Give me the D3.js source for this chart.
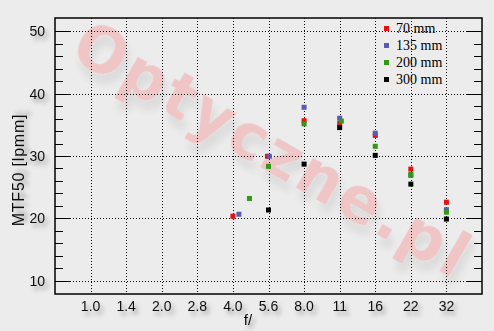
<!DOCTYPE html>
<meta charset="utf-8">
<head>
    <title> MTF50 vs aperture </title>
    <script src="https://d3js.org/d3.v7.min.js"></script>
    <style>
        body { margin: 0; background: #ececec; }
        svg { display: block; }
    </style>
</head>
<body>
<div id="my_dataviz"></div>
<script>

// aperture stops on the x axis
var fLabels = ["1.0", "1.4", "2.0", "2.8", "4.0", "5.6", "8.0", "11", "16", "22", "32"];
var fStops  = [1, 1.41, 2, 2.83, 4, 5.66, 8, 11.3, 16, 22.6, 32];

// one pair of arrays per focal length: f-number and MTF50 [lpmm]
var f70    = [4.0, 5.6, 8, 11.3, 16, 22.6, 32];
var mtf70  = [20.35, 29.95, 35.65, 35.2, 33.3, 27.9, 22.6];
var f135   = [4.24, 5.7, 8, 11.3, 16, 22.6, 32];
var mtf135 = [20.67, 29.95, 37.8, 36.05, 33.65, 26.9, 21.4];
var f200   = [4.7, 5.66, 8, 11.5, 16, 22.6, 32];
var mtf200 = [23.2, 28.35, 35.15, 35.6, 31.55, 27.05, 21.0];
var f300   = [5.66, 8, 11.3, 16, 22.6, 32];
var mtf300 = [21.35, 28.7, 34.55, 30.1, 25.5, 19.9];

var seriesNames = ["70 mm", "135 mm", "200 mm", "300 mm"];
var yTicks = [10, 20, 30, 40, 50];

var series = [
    {name: seriesNames[0], color: "#e81010", f: f70,  v: mtf70},
    {name: seriesNames[1], color: "#5a5ab4", f: f135, v: mtf135},
    {name: seriesNames[2], color: "#2f9a14", f: f200, v: mtf200},
    {name: seriesNames[3], color: "#000000", f: f300, v: mtf300}
];

var W = 494, H = 331;
var plot = {left: 55, right: 482, top: 18, bottom: 294};

var svg = d3.select("#my_dataviz")
    .append("svg")
    .attr("width", W)
    .attr("height", H);

var defs = svg.append("defs");
defs.append("filter").attr("id", "shadow")
    .attr("x", "-50%").attr("y", "-50%").attr("width", "200%").attr("height", "200%")
    .append("feDropShadow")
    .attr("dx", 3).attr("dy", 4).attr("stdDeviation", 2.2)
    .attr("flood-color", "#000").attr("flood-opacity", 0.35);
defs.append("filter").attr("id", "wmshadow")
    .attr("x", "-20%").attr("y", "-20%").attr("width", "140%").attr("height", "140%")
    .append("feDropShadow")
    .attr("dx", 7).attr("dy", 7).attr("stdDeviation", 4)
    .attr("flood-color", "#000").attr("flood-opacity", 0.10);

svg.append("rect").attr("width", W).attr("height", H).attr("fill", "#ececec");

// scales: x runs on half-stop index (2*log2 f), one empty slot each side
var x = d3.scaleLinear().domain([-1, fStops.length]).range([plot.left, plot.right]);
var y = d3.scaleLinear().domain([7.9, 52.1]).range([plot.bottom, plot.top]);
function fx(f) {
    var i = fStops.indexOf(f);
    return x(i >= 0 ? i : 2 * Math.log2(f));
}

// watermark
svg.append("text")
    .attr("transform", "translate(68,56) rotate(30)")
    .attr("font-family", "DejaVu Sans, sans-serif")
    .attr("font-weight", "bold")
    .attr("font-size", 62)
    .attr("letter-spacing", 3)
    .attr("fill", "#f0bcbc")
    .attr("opacity", 0.8)
    .attr("filter", "url(#wmshadow)")
    .text("Optyczne.pl");

// grid
var grid = svg.append("g")
    .attr("stroke", "#000")
    .attr("stroke-width", 1)
    .attr("stroke-dasharray", "1,2");
grid.selectAll(".gy").data(yTicks).enter().append("line")
    .attr("x1", plot.left).attr("x2", plot.right)
    .attr("y1", function(d) { return Math.round(y(d)) + 0.5; })
    .attr("y2", function(d) { return Math.round(y(d)) + 0.5; });
grid.selectAll(".gx").data(fStops).enter().append("line")
    .attr("y1", plot.top).attr("y2", plot.bottom)
    .attr("x1", function(d) { return Math.round(fx(d)) + 0.5; })
    .attr("x2", function(d) { return Math.round(fx(d)) + 0.5; });

// tick marks inside the frame, left and right
var minor = d3.range(10, 51, 2);
var ticks = svg.append("g").attr("stroke", "#000").attr("stroke-width", 1);
ticks.selectAll(".tl").data(minor).enter().append("line")
    .attr("x1", plot.left)
    .attr("x2", function(d) { return plot.left + (d % 10 === 0 ? 15 : 8); })
    .attr("y1", function(d) { return Math.round(y(d)) + 0.5; })
    .attr("y2", function(d) { return Math.round(y(d)) + 0.5; });
ticks.selectAll(".tr").data(minor).enter().append("line")
    .attr("x1", plot.right)
    .attr("x2", function(d) { return plot.right - (d % 10 === 0 ? 15 : 8); })
    .attr("y1", function(d) { return Math.round(y(d)) + 0.5; })
    .attr("y2", function(d) { return Math.round(y(d)) + 0.5; });

// frame
svg.append("rect")
    .attr("x", plot.left).attr("y", plot.top)
    .attr("width", plot.right - plot.left).attr("height", plot.bottom - plot.top)
    .attr("fill", "none").attr("stroke", "#000").attr("stroke-width", 1.5);

// tick labels
svg.append("g").selectAll("text").data(yTicks).enter().append("text")
    .attr("x", 45)
    .attr("y", function(d) { return y(d) + 5; })
    .attr("text-anchor", "end")
    .attr("font-family", "Liberation Sans, Arial, sans-serif")
    .attr("font-size", 14)
    .attr("fill", "#111")
    .attr("filter", "url(#shadow)")
    .text(function(d) { return d; });
svg.append("g").selectAll("text").data(fLabels).enter().append("text")
    .attr("x", function(d, i) { return x(i); })
    .attr("y", 311)
    .attr("text-anchor", "middle")
    .attr("font-family", "Liberation Sans, Arial, sans-serif")
    .attr("font-size", 14)
    .attr("fill", "#111")
    .attr("filter", "url(#shadow)")
    .text(function(d) { return d; });

// axis titles
svg.append("text")
    .attr("x", 248).attr("y", 325)
    .attr("text-anchor", "middle")
    .attr("font-family", "Liberation Sans, Arial, sans-serif")
    .attr("font-size", 15)
    .attr("fill", "#111")
    .attr("filter", "url(#shadow)")
    .text("f/");
svg.append("text")
    .attr("transform", "translate(24,170) rotate(-90)")
    .attr("text-anchor", "middle")
    .attr("font-family", "Liberation Sans, Arial, sans-serif")
    .attr("font-size", 16)
    .attr("letter-spacing", 0.8)
    .attr("fill", "#111")
    .attr("filter", "url(#shadow)")
    .text("MTF50 [lpmm]");

// points
series.forEach(function(s) {
    svg.append("g").selectAll("rect")
        .data(s.f.map(function(f, i) { return {f: f, v: s.v[i]}; }))
        .enter().append("rect")
        .attr("x", function(d) { return fx(d.f) - 2.5; })
        .attr("y", function(d) { return y(d.v) - 2.5; })
        .attr("width", 5).attr("height", 5)
        .attr("fill", s.color);
});

// legend
var legend = svg.append("g").selectAll("g").data(series).enter().append("g")
    .attr("transform", function(d, i) { return "translate(386," + (28 + i * 17) + ")"; });
legend.append("rect")
    .attr("x", -2).attr("y", -2).attr("width", 5).attr("height", 5)
    .attr("fill", function(d) { return d.color; });
legend.append("text")
    .attr("x", 10).attr("y", 5)
    .attr("font-family", "Liberation Serif, Times New Roman, serif")
    .attr("font-size", 14)
    .attr("fill", "#000")
    .text(function(d) { return d.name; });

</script>
</body>
